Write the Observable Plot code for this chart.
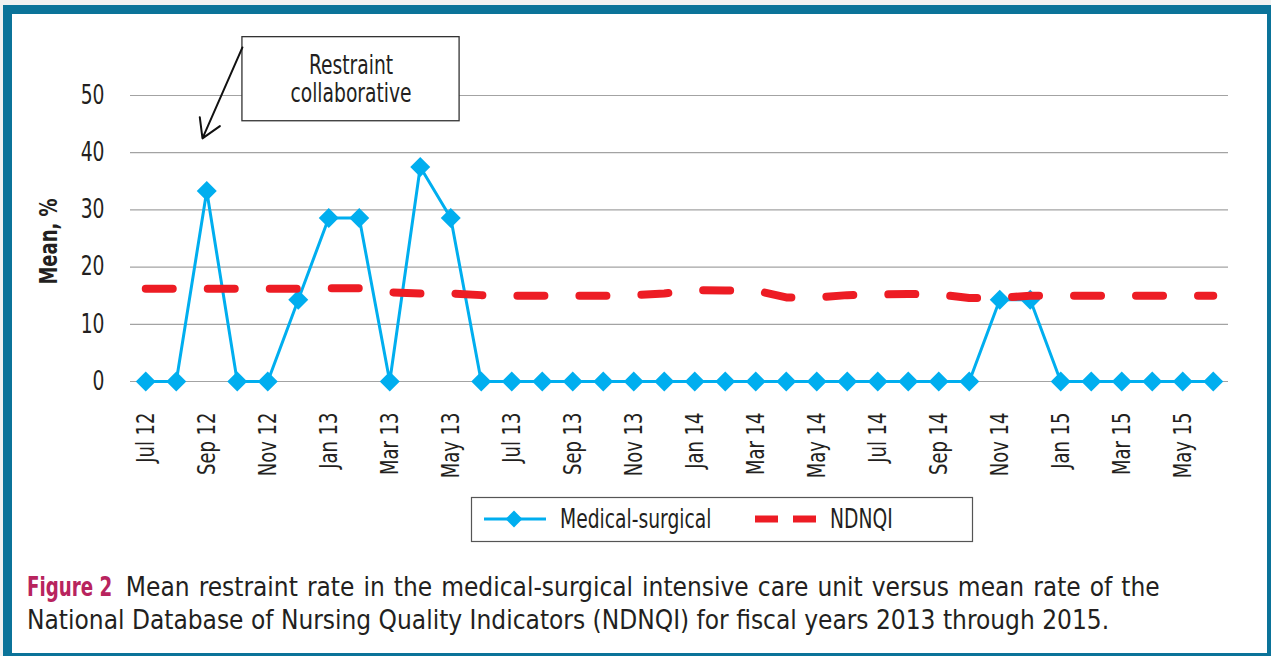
<!DOCTYPE html>
<html>
<head>
<meta charset="utf-8">
<script src="https://cdn.jsdelivr.net/npm/d3@7"></script>
<script src="https://cdn.jsdelivr.net/npm/@observablehq/plot@0.6"></script>
<style>
  html, body { margin:0; padding:0; width:1271px; height:656px; overflow:hidden; background:#f1f1f1; }
  body { font-family: "Liberation Sans Narrow", "DejaVu Sans Condensed", "Arial Narrow", sans-serif; color:#231f20; }
  #frame { position:absolute; left:3px; top:5px; width:1273px; height:657px; box-sizing:border-box; border:9px solid #0b7399; background:#fff; }
  #chart { position:absolute; left:0; top:0; }
  #legend { position:absolute; left:471px; top:497px; }
  #caption { position:absolute; left:27px; top:571px; font-size:26px; line-height:33px; white-space:nowrap; color:#231f20; }
  #caption .fig { color:#b8245e; font-weight:bold; display:inline-block; width:84px; transform:scaleX(0.78); transform-origin:left center; white-space:nowrap; }
  #caption .l1 { word-spacing:1.6px; }
</style>
</head>
<body>
<div id="frame"></div>
<div id="chart"></div>
<div id="legend"></div>
<div id="caption"><span class="fig">Figure 2</span>&nbsp; <span class="l1">Mean restraint rate in the medical-surgical intensive care unit versus mean rate of the</span><br>National Database of Nursing Quality Indicators (NDNQI) for fiscal years 2013 through 2015.</div>
<script>
const FONT = '"Liberation Sans Narrow", "DejaVu Sans Condensed", "Arial Narrow", sans-serif';

const months = ["Jul 12","Aug 12","Sep 12","Oct 12","Nov 12","Dec 12","Jan 13","Feb 13","Mar 13","Apr 13","May 13","Jun 13",
                "Jul 13","Aug 13","Sep 13","Oct 13","Nov 13","Dec 13","Jan 14","Feb 14","Mar 14","Apr 14","May 14","Jun 14",
                "Jul 14","Aug 14","Sep 14","Oct 14","Nov 14","Dec 14","Jan 15","Feb 15","Mar 15","Apr 15","May 15","Jun 15"];
const medicalSurgical = [0,0,33.3,0,0,14.3,28.6,28.6,0,37.5,28.6,0,
                         0,0,0,0,0,0,0,0,0,0,0,0,
                         0,0,0,0,14.3,14.3,0,0,0,0,0,0];
const ndnqi = [16.2,16.2,16.2,16.2,16.2,16.2,16.3,16.3,15.6,15.4,15.4,15.1,
               15.0,15.0,15.0,15.0,15.1,15.4,16.0,15.9,15.9,14.7,14.7,15.1,
               15.2,15.3,15.2,14.6,14.6,15.0,15.0,15.0,15.0,15.0,15.0,15.0];
const yTicks = [0,10,20,30,40,50];
const seriesNames = ["Medical-surgical","NDNQI"];
const yLabel = "Mean, %";
const annotationText = "Restraint\ncollaborative";
// annotation box and arrow in data units (month index, mean %)
const annotationBox = [{x1:3.17, x2:10.29, y1:45.5, y2:60.2}];
const annotationArrow = [{x1:3.17, y1:58.4, x2:1.86, y2:42.5}];

const BLUE = "#00aeef", RED = "#ed1c24";
const NARROW = 0.8; // horizontal compression to mimic a condensed typeface

function condense(svg, f) {
  svg.querySelectorAll("text").forEach(el => {
    const tspans = el.querySelectorAll("tspan");
    const targets = tspans.length ? Array.from(tspans) : [el];
    targets.forEach(t => {
      const L = t.getComputedTextLength();
      if (L > 0) {
        t.setAttribute("textLength", (L * f).toFixed(2));
        t.setAttribute("lengthAdjust", "spacingAndGlyphs");
      }
    });
  });
}

const idx = months.map((m,i)=>i);
const msData = idx.map(i=>({i, v:medicalSurgical[i]}));
const ndData = idx.map(i=>({i, v:ndnqi[i]}));
const box = annotationBox[0];

const chart = Plot.plot({
  width:1271, height:480,
  marginLeft:130, marginRight:43, marginTop:95, marginBottom:99,
  style:{fontFamily:FONT, fontSize:"26px", color:"#231f20", background:"transparent", overflow:"visible"},
  x:{type:"linear", domain:[-0.5,35.5]},
  y:{domain:[0,50]},
  marks:[
    Plot.gridY(yTicks, {stroke:"#a3a3a3", strokeOpacity:1, strokeWidth:1.2}),
    Plot.axisY(yTicks, {tickSize:0, tickPadding:26, label:null, fontSize:26}),
    Plot.axisX(idx.filter(i=>i%2===0), {tickSize:0, tickPadding:31, tickRotate:-90, tickFormat:i=>months[i], label:null, fontSize:25}),
    Plot.text([yLabel], {frameAnchor:"left", textAnchor:"middle", dx:-82, dy:3, rotate:-90, fontWeight:"bold", fontSize:25, fill:"#231f20"}),
    Plot.rect(annotationBox, {x1:"x1", x2:"x2", y1:"y1", y2:"y2", fill:"white", stroke:"#333", strokeWidth:1.3}),
    Plot.text([annotationText], {x:()=>(box.x1+box.x2)/2, y:()=>(box.y1+box.y2)/2, fontSize:26, lineHeight:1.08, fill:"#231f20"}),
    Plot.arrow(annotationArrow, {x1:"x1", y1:"y1", x2:"x2", y2:"y2", stroke:"#111", strokeWidth:2, headLength:16, headAngle:62}),
    Plot.line(msData, {x:"i", y:"v", stroke:BLUE, strokeWidth:3}),
    Plot.dot(msData, {x:"i", y:"v", symbol:"diamond2", r:9, fill:BLUE, stroke:"none"}),
    Plot.line(ndData, {x:"i", y:"v", stroke:RED, strokeWidth:8, strokeDasharray:"27 35", strokeLinecap:"round"})
  ]
});
document.getElementById("chart").appendChild(chart);
condense(chart, NARROW);

// legend
const lgSvg = d3.select("#legend").append("svg").attr("width",502).attr("height",45).style("font-family",FONT).style("overflow","visible");
lgSvg.append("rect").attr("x",0.5).attr("y",0.5).attr("width",501).attr("height",44).attr("fill","white").attr("stroke","#555").attr("stroke-width",1.2);
lgSvg.append("line").attr("x1",13).attr("x2",75).attr("y1",22).attr("y2",22).attr("stroke",BLUE).attr("stroke-width",3);
lgSvg.append("path").attr("d",d3.symbol(d3.symbolDiamond2, 180)()).attr("transform","translate(43,22)").attr("fill",BLUE);
lgSvg.append("text").attr("x",89).attr("y",22).attr("dy","0.36em").attr("font-size",26).attr("fill","#231f20").text(seriesNames[0]);
lgSvg.append("line").attr("x1",284).attr("x2",345).attr("y1",22).attr("y2",22).attr("stroke",RED).attr("stroke-width",7).attr("stroke-dasharray","23 15");
lgSvg.append("text").attr("x",359).attr("y",22).attr("dy","0.36em").attr("font-size",26).attr("fill","#231f20").text(seriesNames[1]);
condense(lgSvg.node(), NARROW);
</script>
</body>
</html>
